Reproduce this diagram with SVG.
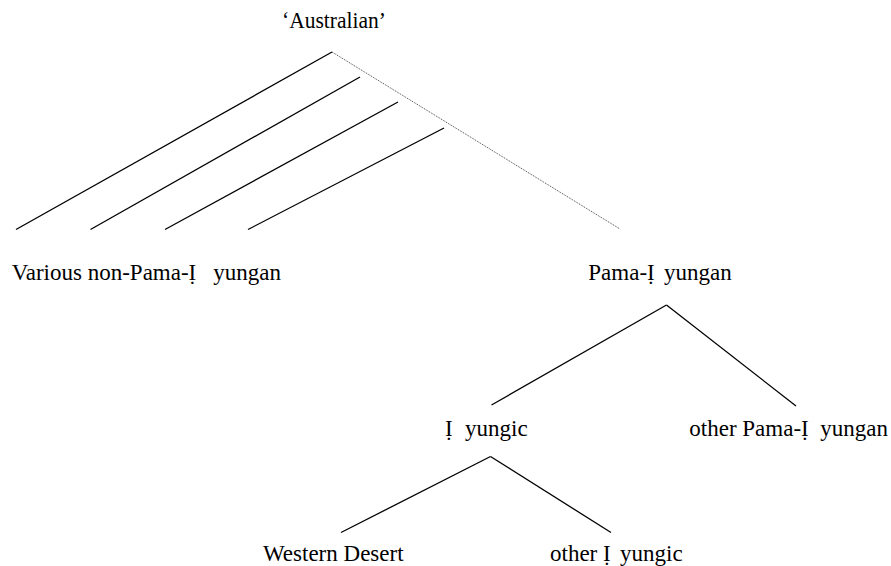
<svg xmlns="http://www.w3.org/2000/svg" width="891" height="566" viewBox="0 0 891 566">
  <style>
    .lbl { font-family: "Liberation Serif", "Times New Roman", serif; font-size: 23px; fill: #000; }
    .edge { stroke: #000; stroke-width: 1.3; fill: none; }
    .dotted { stroke: #444; stroke-width: 1; stroke-dasharray: 1 1; fill: none; }
  </style>
  <rect width="891" height="566" fill="#fff"/>

  <!-- connectors -->
  <g id="connectors">
    <line class="edge" x1="332" y1="52" x2="16" y2="229.5"/>
    <line class="edge" x1="360" y1="77" x2="90.5" y2="229.5"/>
    <line class="edge" x1="398" y1="102" x2="165" y2="229.5"/>
    <line class="edge" x1="444" y1="128" x2="248" y2="229.5"/>
    <line class="dotted" x1="332" y1="52" x2="620" y2="229"/>
    <line class="edge" x1="666.5" y1="305" x2="491.5" y2="405"/>
    <line class="edge" x1="666.5" y1="305" x2="796" y2="406"/>
    <line class="edge" x1="490.5" y1="456.5" x2="341" y2="532.5"/>
    <line class="edge" x1="490.5" y1="456.5" x2="611" y2="532.5"/>
  </g>

  <g id="australian">
    <text class="lbl" x="282" y="27.5" font-size="22" textLength="104" lengthAdjust="spacingAndGlyphs">‘Australian’</text>
  </g>
  <g id="non-pama-nyungan">
    <text class="lbl" x="11.7" y="280">Various non-Pama-Ị<tspan x="213.3">yungan</tspan></text>
  </g>
  <g id="pama-nyungan">
    <text class="lbl" x="588.3" y="280">Pama-Ị<tspan x="664">yungan</tspan></text>
  </g>
  <g id="nyungic">
    <text class="lbl" x="445" y="436">Ị<tspan x="465">yungic</tspan></text>
  </g>
  <g id="other-pama-nyungan">
    <text class="lbl" x="689.3" y="436">other Pama-Ị<tspan x="820.3">yungan</tspan></text>
  </g>
  <g id="western-desert">
    <text class="lbl" x="263" y="561">Western Desert</text>
  </g>
  <g id="other-nyungic">
    <text class="lbl" x="550" y="561">other Ị<tspan x="620">yungic</tspan></text>
  </g>
</svg>
